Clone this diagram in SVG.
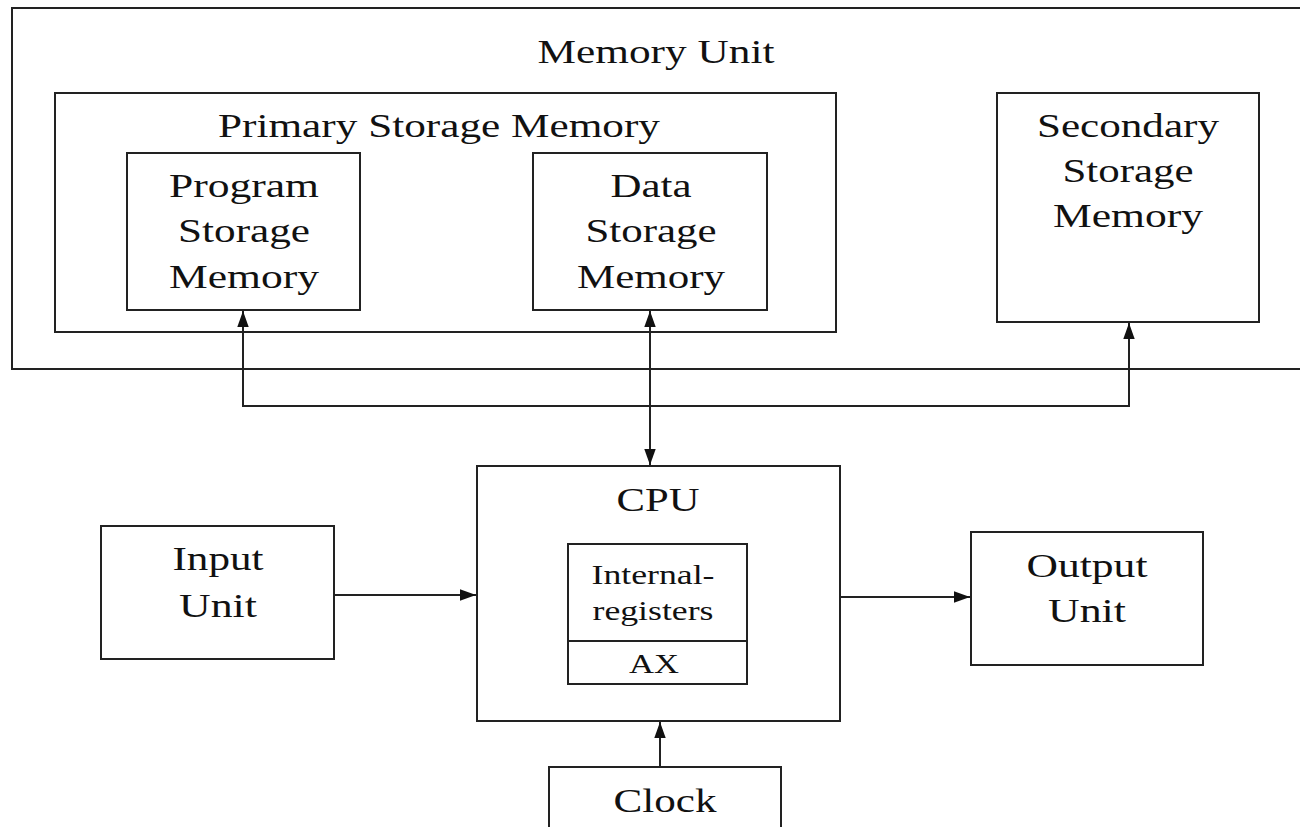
<svg xmlns="http://www.w3.org/2000/svg" width="1300" height="827" viewBox="0 0 1300 827">
<style>
.box{fill:#fff;stroke:#222;stroke-width:2}
.ln{fill:none;stroke:#222;stroke-width:2}
text{font-family:"Liberation Serif","Times New Roman",serif;fill:#111;text-anchor:middle;font-size:34px}
.sm{font-size:28px}
</style>
<defs>
<marker id="ah" markerUnits="userSpaceOnUse" markerWidth="16" markerHeight="12" refX="14" refY="5" orient="auto-start-reverse" viewBox="0 0 14 10">
<path d="M0,0 L14,5 L0,10 z" fill="#111"/>
</marker>
</defs>
<rect width="1300" height="827" fill="#fff"/>
<g id="memory-unit">
<rect class="box" x="12" y="8" width="1300" height="361"/>
<text x="656" y="63" textLength="237" lengthAdjust="spacingAndGlyphs">Memory Unit</text>
</g>
<g id="primary-storage">
<rect class="box" x="55" y="93" width="781" height="239"/>
<text x="439" y="137" textLength="442" lengthAdjust="spacingAndGlyphs">Primary Storage Memory</text>
</g>
<g id="program-storage">
<rect class="box" x="127" y="153" width="233" height="157"/>
<text x="244" y="197" textLength="150" lengthAdjust="spacingAndGlyphs">Program</text>
<text x="244" y="242" textLength="132" lengthAdjust="spacingAndGlyphs">Storage</text>
<text x="244" y="288" textLength="150" lengthAdjust="spacingAndGlyphs">Memory</text>
</g>
<g id="data-storage">
<rect class="box" x="533" y="153" width="234" height="157"/>
<text x="651" y="197" textLength="81" lengthAdjust="spacingAndGlyphs">Data</text>
<text x="651" y="242" textLength="131" lengthAdjust="spacingAndGlyphs">Storage</text>
<text x="651" y="288" textLength="148" lengthAdjust="spacingAndGlyphs">Memory</text>
</g>
<g id="secondary-storage">
<rect class="box" x="997" y="93" width="262" height="229"/>
<text x="1128" y="137" textLength="182" lengthAdjust="spacingAndGlyphs">Secondary</text>
<text x="1128" y="182" textLength="131" lengthAdjust="spacingAndGlyphs">Storage</text>
<text x="1128" y="227" textLength="150" lengthAdjust="spacingAndGlyphs">Memory</text>
</g>
<g id="cpu">
<rect class="box" x="477" y="466" width="363" height="255"/>
<text x="658" y="511" textLength="83" lengthAdjust="spacingAndGlyphs">CPU</text>
</g>
<g id="internal-registers">
<rect class="box" x="568" y="544" width="179" height="140"/>
<line class="ln" x1="568" y1="641" x2="747" y2="641"/>
<text class="sm" x="653" y="584" textLength="123" lengthAdjust="spacingAndGlyphs">Internal-</text>
<text class="sm" x="653" y="620" textLength="121" lengthAdjust="spacingAndGlyphs">registers</text>
<text class="sm" x="654" y="673" textLength="50" lengthAdjust="spacingAndGlyphs">AX</text>
</g>
<g id="input-unit">
<rect class="box" x="101" y="526" width="233" height="133"/>
<text x="218" y="570" textLength="91" lengthAdjust="spacingAndGlyphs">Input</text>
<text x="218" y="617" textLength="78" lengthAdjust="spacingAndGlyphs">Unit</text>
</g>
<g id="output-unit">
<rect class="box" x="971" y="532" width="232" height="133"/>
<text x="1087" y="577" textLength="121" lengthAdjust="spacingAndGlyphs">Output</text>
<text x="1087" y="622" textLength="78" lengthAdjust="spacingAndGlyphs">Unit</text>
</g>
<g id="clock">
<rect class="box" x="549" y="767" width="232" height="80"/>
<text x="665" y="812" textLength="103" lengthAdjust="spacingAndGlyphs">Clock</text>
</g>
<g id="connectors">
<polyline class="ln" points="243,311 243,406 1129,406 1129,323" marker-start="url(#ah)" marker-end="url(#ah)"/>
<line class="ln" x1="650" y1="311" x2="650" y2="465" marker-start="url(#ah)" marker-end="url(#ah)"/>
<line class="ln" x1="334" y1="595" x2="476" y2="595" marker-end="url(#ah)"/>
<line class="ln" x1="840" y1="597" x2="970" y2="597" marker-end="url(#ah)"/>
<line class="ln" x1="660" y1="767" x2="660" y2="722" marker-end="url(#ah)"/>
</g>
</svg>
